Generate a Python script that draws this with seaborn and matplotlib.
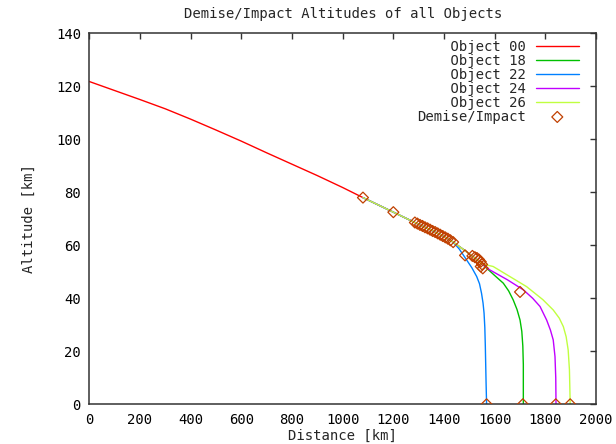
import matplotlib
matplotlib.use("Agg")
import matplotlib.pyplot as plt
import seaborn as sns
import numpy as np

# Object 00 (main body) until break-up
obj00_dist = [0, 100, 200, 300, 400, 500, 600, 700, 800, 900, 1000, 1080]
obj00_alt = [121.8, 118.4, 115.0, 111.5, 107.6, 103.5, 99.3, 94.9, 90.6, 86.3, 81.8, 78.0]

# common path of the fragments after break-up
frag_dist = [1080, 1150, 1200, 1250, 1300, 1350, 1400, 1436]
frag_alt = [78.0, 74.8, 72.5, 70.2, 67.9, 65.7, 63.3, 61.2]
# second common part (objects 18, 24, 26)
frag2_dist = [1480, 1520, 1550]
frag2_alt = [58.2, 55.3, 53.0]

obj22_dist = [1460, 1489, 1510, 1529, 1540, 1548, 1554, 1558, 1561, 1563, 1566, 1568]
obj22_alt = [58.6, 54.5, 51.5, 48.2, 45.5, 41.9, 38.2, 34.4, 29.0, 22.0, 8.0, 0.0]
obj18_dist = [1568, 1600, 1634, 1655, 1673, 1688, 1700, 1707, 1711, 1713, 1713]
obj18_alt = [51.4, 48.6, 45.7, 42.8, 39.4, 35.8, 31.8, 27.5, 22.0, 15.0, 0.0]
obj24_dist = [1581, 1650, 1713, 1750, 1779, 1805, 1820, 1831, 1838, 1841, 1842]
obj24_alt = [50.7, 47.0, 43.2, 40.0, 36.9, 31.8, 28.0, 24.3, 18.0, 10.0, 0.0]
obj26_dist = [1594, 1660, 1726, 1790, 1831, 1855, 1871, 1882, 1890, 1895, 1898]
obj26_alt = [52.0, 48.2, 44.4, 39.5, 35.6, 32.5, 29.3, 25.5, 20.5, 13.0, 0.0]

demise_dist = [1080, 1200,
               1285, 1295, 1305, 1315, 1325, 1335, 1345, 1355, 1365, 1375,
               1385, 1395, 1405, 1415, 1425, 1436,
               1483, 1512, 1522, 1530, 1538, 1545, 1550, 1545, 1553,
               1700,
               1568, 1711, 1841, 1898]
demise_alt = [78.0, 72.5,
              68.6, 68.2, 67.7, 67.3, 66.8, 66.4, 65.9, 65.4, 65.0, 64.5,
              64.0, 63.5, 63.0, 62.5, 61.9, 61.2,
              56.2, 56.0, 55.5, 55.2, 54.6, 53.8, 52.8, 52.0, 51.3,
              42.4,
              0.0, 0.0, 0.0, 0.0]

objects = {
    "Object 00": (obj00_dist, obj00_alt, "#ff0000"),
    "Object 18": (frag_dist + frag2_dist + obj18_dist, frag_alt + frag2_alt + obj18_alt, "#00c000"),
    "Object 22": (frag_dist + obj22_dist, frag_alt + obj22_alt, "#0080ff"),
    "Object 24": (frag_dist + frag2_dist + obj24_dist, frag_alt + frag2_alt + obj24_alt, "#c000ff"),
    "Object 26": (frag_dist + frag2_dist + obj26_dist, frag_alt + frag2_alt + obj26_alt, "#c0ff40"),
}

sns.set_style("white")
plt.rcParams["font.family"] = ["DejaVu Sans Mono"]
plt.rcParams["font.size"] = 10

fig = plt.figure(figsize=(6.16, 4.44), dpi=100)
ax = fig.add_axes([0.145, 0.0894, 0.8226, 0.8356])

for name, (d, a, c) in objects.items():
    sns.lineplot(x=d, y=a, color=c, lw=1.0, sort=False, estimator=None,
                 label=name, ax=ax)

sns.scatterplot(x=demise_dist, y=demise_alt, marker="D", s=31,
                facecolor="none", edgecolor="#c04000", linewidth=0.9,
                label="Demise/Impact", ax=ax, zorder=5)

ax.set_xlim(0, 2000)
ax.set_ylim(0, 140)
ax.set_xticks(np.arange(0, 2001, 200))
ax.set_yticks(np.arange(0, 141, 20))
ax.tick_params(direction="in", length=4, width=1, top=True, right=True,
               colors="#333333", labelcolor="black")
ax.tick_params(axis="x", pad=6)
ax.tick_params(axis="y", pad=6)
for sp in ax.spines.values():
    sp.set_color("#333333")
    sp.set_linewidth(1.1)

ax.set_title("Demise/Impact Altitudes of all Objects", fontsize=10, pad=11)
ax.set_xlabel("Distance [km]", fontsize=10)
ax.set_ylabel("Altitude [km]", fontsize=10)
ax.yaxis.set_label_coords(-0.105, 0.5)
ax.xaxis.set_label_coords(0.5, -0.065)

handles, labels = ax.get_legend_handles_labels()
width = max(len(l) for l in labels)
ax.legend(handles, [l.rjust(width) for l in labels], loc="upper right",
          bbox_to_anchor=(0.966, 0.983), frameon=False, markerfirst=False,
          handlelength=3.1, handletextpad=0.7, labelspacing=0.0,
          borderpad=0, borderaxespad=0, fontsize=10)

fig.savefig("out.png", dpi=100)
